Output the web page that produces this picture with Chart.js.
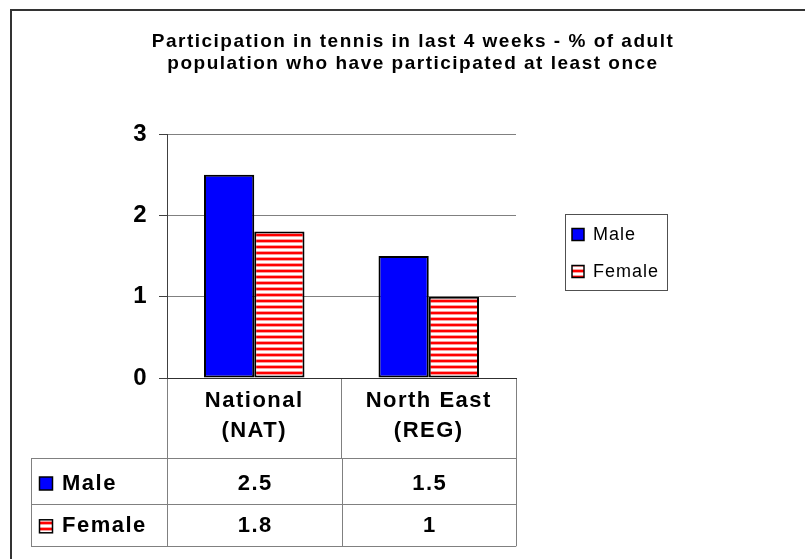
<!DOCTYPE html>
<html lang="en">
<head>
<meta charset="UTF-8">
<title>Participation in tennis</title>
<script src="https://cdn.jsdelivr.net/npm/chart.js"></script>
<style>
    html, body { margin: 0; padding: 0; background: #fff; }
    #wrap { width: 805px; height: 559px; }
</style>
</head>
<body>
<div id="wrap"><canvas id="tennisChart" width="805" height="559"></canvas></div>
<script>
// Data
const categories = [['National', '(NAT)'], ['North East', '(REG)']];
const seriesNames = ['Male', 'Female'];
const maleValues = [2.5, 1.5];
const femaleValues = [1.8, 1];
const yMin = 0;
const yMax = 3;
const yStep = 1;
const titleLines = ['Participation in tennis in last 4 weeks - % of adult',
                    'population who have participated at least once'];

const FONT = '"Liberation Sans", Arial, sans-serif';

// red / white horizontal stripes like the Excel fill pattern
function makeStripes() {
    const c = document.createElement('canvas');
    c.width = 6; c.height = 6;
    const g = c.getContext('2d');
    g.fillStyle = '#ffffff'; g.fillRect(0, 0, 6, 6);
    g.fillStyle = '#ff0000'; g.fillRect(0, 0, 6, 2);
    g.fillStyle = '#ff9c9c'; g.fillRect(0, 2, 6, 1); g.fillRect(0, 5, 6, 1);
    return g.createPattern(c, 'repeat');
}
const stripes = makeStripes();
const seriesFills = ['#0000ff', stripes];
const seriesValues = [maleValues, femaleValues];

function swatch(ctx, x, y, w, h, fill) {
    ctx.fillStyle = fill;
    ctx.fillRect(x, y, w, h);
    ctx.lineWidth = 1.5;
    ctx.strokeStyle = '#000';
    ctx.strokeRect(x, y, w, h);
}

// title, legend, data table and outer frame
const extras = {
    id: 'extras',
    beforeDraw(chart) {
        chart.ctx.letterSpacing = '1.5px';
    },
    afterDraw(chart) {
        const ctx = chart.ctx;
        const xs = chart.scales.x;
        const n = categories.length;
        const step = (xs.right - xs.left) / n;
        ctx.save();

        // title
        ctx.fillStyle = '#000';
        ctx.font = 'bold 19px ' + FONT;
        ctx.textAlign = 'center';
        ctx.textBaseline = 'alphabetic';
        ctx.letterSpacing = '1.5px';
        ctx.fillText(titleLines[0], 413, 47);
        ctx.fillText(titleLines[1], 413, 68.5);

        // legend
        ctx.strokeStyle = '#505050';
        ctx.lineWidth = 1;
        ctx.strokeRect(565.5, 214.5, 102, 76);
        ctx.font = '18px ' + FONT;
        ctx.letterSpacing = '1px';
        ctx.textAlign = 'left';
        ctx.textBaseline = 'middle';
        const legY = [234.5, 271.5];
        seriesNames.forEach((name, i) => {
            swatch(ctx, 572, legY[i] - 6, 12, 12, seriesFills[i]);
            ctx.fillStyle = '#000';
            ctx.fillText(name, 593, legY[i] + 1);
        });

        // data table rows below the category header
        const tableLeft = 31;
        const rowTops = [xs.bottom, xs.bottom + 46.3, xs.bottom + 88.3];
        ctx.strokeStyle = '#808080';
        ctx.lineWidth = 1;
        ctx.beginPath();
        rowTops.forEach(y => {
            const yy = Math.round(y) + 0.5;
            ctx.moveTo(tableLeft, yy); ctx.lineTo(xs.right, yy);
        });
        ctx.moveTo(tableLeft + 0.5, rowTops[0]); ctx.lineTo(tableLeft + 0.5, rowTops[2]);
        for (let i = 0; i <= n; i++) {
            const xx = Math.round(xs.left + i * step) + 0.5;
            ctx.moveTo(xx, rowTops[0]); ctx.lineTo(xx, rowTops[2]);
        }
        ctx.stroke();

        ctx.font = 'bold 22px ' + FONT;
        ctx.letterSpacing = '1.5px';
        ctx.textBaseline = 'middle';
        const rowMid = [rowTops[0] + 25.5, rowTops[1] + 22];
        seriesNames.forEach((name, r) => {
            swatch(ctx, 39.5, rowMid[r] - 6.5, 13, 13, seriesFills[r]);
            ctx.fillStyle = '#000';
            ctx.textAlign = 'left';
            ctx.fillText(name, 62, rowMid[r]);
            ctx.textAlign = 'center';
            seriesValues[r].forEach((v, i) => {
                ctx.fillText(String(v), xs.getPixelForValue(i) + 1, rowMid[r]);
            });
        });

        // outer chart frame (right and bottom edges fall outside the picture)
        ctx.strokeStyle = '#333';
        ctx.lineWidth = 2;
        ctx.beginPath();
        ctx.moveTo(11, 559);
        ctx.lineTo(11, 10);
        ctx.lineTo(805, 10);
        ctx.stroke();
        ctx.restore();
    }
};

const ctx = document.getElementById('tennisChart').getContext('2d');
const chart = new Chart(ctx, {
    type: 'bar',
    data: {
        labels: categories,
        datasets: seriesNames.map((name, i) => ({
            label: name,
            data: seriesValues[i],
            backgroundColor: seriesFills[i],
            borderColor: '#000',
            borderWidth: 2,
            borderSkipped: false,
            categoryPercentage: 0.576,
            barPercentage: 1
        }))
    },
    options: {
        responsive: false,
        devicePixelRatio: 1,
        animation: false,
        events: [],
        layout: { padding: { left: 107, right: 289, top: 134, bottom: 101 } },
        plugins: {
            legend: { display: false },
            title: { display: false },
            tooltip: { enabled: false }
        },
        scales: {
            x: {
                offset: true,
                afterFit(scale) { scale.height = 80; },
                grid: {
                    offset: true,
                    drawOnChartArea: false,
                    drawTicks: true,
                    tickLength: 80,
                    color: '#808080'
                },
                border: { display: true, color: '#303030', width: 1 },
                ticks: {
                    color: '#000',
                    padding: -72,
                    maxRotation: 0,
                    autoSkip: false,
                    font: { family: FONT, size: 22, weight: 'bold', lineHeight: 1.35 }
                }
            },
            y: {
                min: yMin,
                max: yMax,
                afterFit(scale) { scale.width = 60; },
                grid: {
                    color: '#808080',
                    tickColor: '#404040',
                    tickLength: 8,
                    drawTicks: true
                },
                border: { display: true, color: '#404040', width: 1 },
                ticks: {
                    stepSize: yStep,
                    color: '#000',
                    padding: 11,
                    font: { family: FONT, size: 24, weight: 'bold' }
                }
            }
        }
    },
    plugins: [extras]
});
</script>
</body>
</html>
